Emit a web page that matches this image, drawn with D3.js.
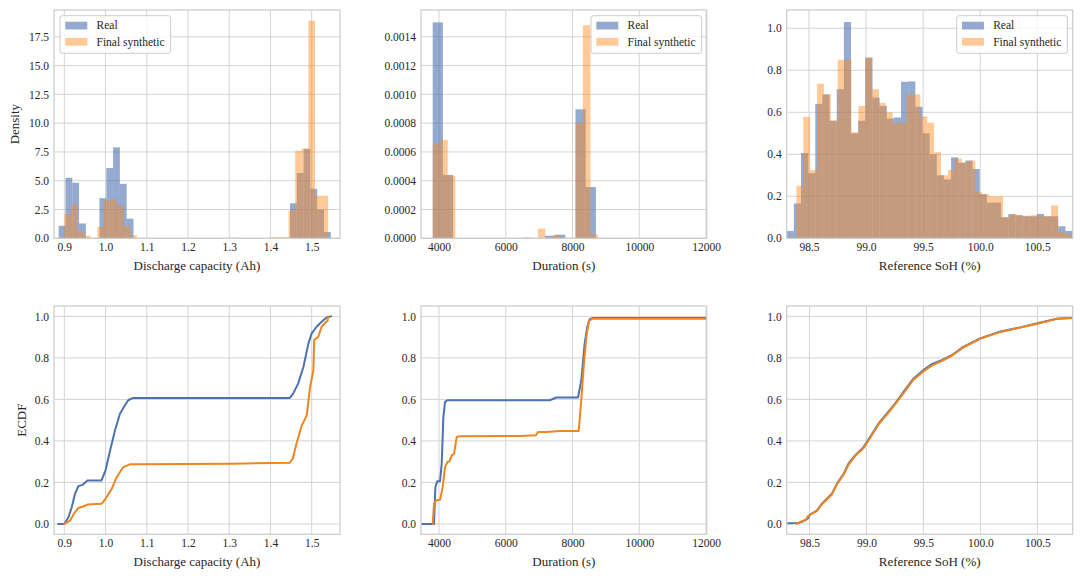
<!DOCTYPE html>
<html><head><meta charset="utf-8">
<script src="https://cdn.jsdelivr.net/npm/d3@7"></script>
<style>
body{margin:0;background:#fff}
svg text{font-family:"Liberation Serif","Times New Roman",Times,Tinos,"DejaVu Serif","Noto Serif",serif !important;fill:#262626}
</style>
</head><body>
<svg id="chart" width="1083" height="579"></svg>
<script>
// ---------------- DATA ----------------
const seriesNames = ["Real", "Final synthetic"];

// Discharge capacity histograms (density)
const capRealStart = 0.8863, capRealWidth = 0.0165;
const capRealDensity = [1.09,5.26,4.82,1.29,0,0,3.48,6.10,7.90,4.73,1.70,
  0,0,0,0,0,0,0,0,0,0,0,0,0,0,0,0,0,0,0,0,0,0,0,
  3.04,5.67,7.75,4.30,2.50,0.55];
const capSynStart = 0.9, capSynWidth = 0.016;
const capSynDensity = [2.11,2.90,0.60,0.22,0,1.00,3.28,3.42,2.84,1.09,0.28,
  0,0,0,0,0,0,0,0,0,0,0,0,0,0,0.05,0,0,0,0,0,0.08,0.10,0.10,
  2.40,7.60,7.80,18.90,3.70,3.70];

// Duration histograms (density)
const durRealStart = 3811, durRealWidth = 305.6;
const durRealDensity = [0.00150,0.00044,0,0,0,0,0,0,0,0,0,0.000018,0.000025,0,0.000896,0.000356];
const durSynStart = 3811, durSynWidth = 225;
const durSynDensity = [0.000653,0.000683,0.000433,0,0,0,0,0,0,0,0,0,0.000007,0,0.000067,0,0.000022,0,0,0.00080,0.00148,0.000028];

// Reference SoH histograms (density)
const sohRealStart = 98.305, sohRealWidth = 0.0626;
const sohRealDensity = [0.035,0.166,0.406,0.31,0.64,0.685,0.56,0.71,1.03,0.50,0.56,0.86,0.67,0.63,0.57,0.575,0.745,0.747,0.626,0.50,
  0.40,0.30,0.28,0.385,0.36,0.37,0.33,0.21,0.17,0.17,0.10,0.115,0.11,0.105,0.105,0.116,0.105,0.105,0.057,0.035];
const sohSynStart = 98.39, sohSynWidth = 0.0603;
const sohSynDensity = [0.25,0.578,0.325,0.736,0.685,0.56,0.85,0.85,0.505,0.63,0.86,0.71,0.645,0.60,0.55,0.55,0.685,0.685,0.58,0.55,
  0.41,0.30,0.326,0.38,0.36,0.37,0.22,0.21,0.20,0.20,0.10,0.115,0.108,0.108,0.11,0.105,0.105,0.156,0.03,0.02];

// ECDF curves [x, F(x)]
const capRealEcdf = [[0.885,0],[0.9,0],[0.91,0.032],[0.918,0.08],[0.926,0.145],[0.934,0.182],[0.944,0.188],[0.956,0.209],[0.99,0.209],[1.0,0.258],[1.011,0.354],[1.023,0.451],[1.035,0.531],[1.047,0.572],[1.055,0.596],[1.067,0.607],[1.447,0.607],[1.455,0.628],[1.467,0.676],[1.48,0.757],[1.492,0.87],[1.5,0.918],[1.512,0.95],[1.524,0.974],[1.536,0.995],[1.547,1.0]];
const capSynEcdf = [[0.9,0],[0.914,0.016],[0.923,0.048],[0.934,0.077],[0.946,0.084],[0.956,0.093],[0.99,0.097],[1.0,0.121],[1.015,0.169],[1.027,0.225],[1.043,0.274],[1.059,0.287],[1.075,0.288],[1.31,0.29],[1.447,0.295],[1.454,0.314],[1.463,0.386],[1.476,0.475],[1.488,0.523],[1.496,0.66],[1.504,0.74],[1.506,0.886],[1.516,0.902],[1.524,0.95],[1.535,0.974],[1.538,0.976],[1.54,1.0]];
const durRealEcdf = [[3462,0],[3850,0],[3890,0.177],[3950,0.206],[4030,0.206],[4080,0.29],[4130,0.515],[4180,0.588],[4250,0.596],[7318,0.596],[7517,0.609],[8164,0.609],[8264,0.692],[8364,0.87],[8443,0.95],[8513,0.986],[8613,0.992],[12020,0.992]];
const durSynEcdf = [[3811,0],[3850,0.097],[3910,0.113],[4030,0.116],[4110,0.177],[4180,0.274],[4250,0.298],[4310,0.301],[4380,0.33],[4450,0.338],[4530,0.419],[4630,0.423],[6420,0.424],[6900,0.427],[6970,0.443],[7220,0.443],[7620,0.448],[8185,0.448],[8245,0.564],[8334,0.757],[8414,0.902],[8493,0.979],[8613,0.989],[12020,0.989]];
const sohRealEcdf = [[98.30,0.003],[98.404,0.005],[98.447,0.013],[98.482,0.024],[98.506,0.045],[98.564,0.064],[98.608,0.097],[98.652,0.121],[98.696,0.145],[98.74,0.193],[98.8,0.242],[98.842,0.29],[98.9,0.33],[98.974,0.37],[99.032,0.419],[99.105,0.483],[99.178,0.531],[99.251,0.58],[99.325,0.636],[99.412,0.70],[99.5,0.741],[99.573,0.77],[99.66,0.789],[99.749,0.813],[99.85,0.853],[99.997,0.894],[100.17,0.926],[100.35,0.947],[100.52,0.969],[100.67,0.989],[100.81,0.992]];
const sohSynEcdf = [[98.389,0],[98.433,0.013],[98.47,0.019],[98.482,0.035],[98.52,0.05],[98.564,0.062],[98.608,0.095],[98.652,0.118],[98.696,0.142],[98.74,0.19],[98.8,0.238],[98.842,0.285],[98.9,0.327],[98.974,0.365],[99.032,0.414],[99.105,0.478],[99.178,0.527],[99.251,0.576],[99.325,0.63],[99.412,0.695],[99.5,0.735],[99.573,0.763],[99.66,0.785],[99.749,0.81],[99.85,0.85],[99.997,0.892],[100.17,0.924],[100.35,0.946],[100.52,0.967],[100.67,0.988],[100.81,0.993]];

// Tick labels
const capTicks = [0.9,1.0,1.1,1.2,1.3,1.4,1.5];
const durTicks = [4000,6000,8000,10000,12000];
const sohTicks = [98.5,99.0,99.5,100.0,100.5];
const capDensTicks = [0,2.5,5,7.5,10,12.5,15,17.5];
const durDensTicks = [0,0.0002,0.0004,0.0006,0.0008,0.0010,0.0012,0.0014];
const sohDensTicks = [0,0.2,0.4,0.6,0.8,1.0];
const ecdfTicks = [0,0.2,0.4,0.6,0.8,1.0];

const xLabels = ["Discharge capacity (Ah)", "Duration (s)", "Reference SoH (%)"];

// ---------------- DRAWING ----------------
const FONT = '"Liberation Serif","Times New Roman",Times,Tinos,"DejaVu Serif","Noto Serif",serif';
const svg = d3.select("#chart").attr("font-family", FONT);
const BLUE = "#4C72B0", ORANGE_FILL = "#ff8a1a", ORANGE_LINE = "#ee8520";
const GRID = "#d4d4d4", FRAME = "#cccccc";

const cols = [{l:54,r:340},{l:421,r:706.7},{l:786.7,r:1072.7}];
const rows = [{t:10,b:238.3},{t:306,b:534.3}];

function bins(start, width, dens){
  return dens.map((h,i)=>({x0:start+i*width, x1:start+(i+1)*width, h}));
}

let clipId = 0;
function panel(o){
  const x = d3.scaleLinear().domain(o.xDomain).range([o.l, o.r]);
  const y = d3.scaleLinear().domain(o.yDomain).range([o.b, o.t]);
  const g = svg.append("g");
  const id = "clip" + (clipId++);
  svg.append("clipPath").attr("id", id).append("rect")
    .attr("x", o.l).attr("y", o.t).attr("width", o.r-o.l).attr("height", o.b-o.t);

  g.append("g").selectAll("line").data(o.xTicks).join("line")
    .attr("x1", d=>x(d)).attr("x2", d=>x(d)).attr("y1", o.t).attr("y2", o.b)
    .attr("stroke", GRID).attr("stroke-width", 1);
  g.append("g").selectAll("line").data(o.yTicks).join("line")
    .attr("y1", d=>y(d)).attr("y2", d=>y(d)).attr("x1", o.l).attr("x2", o.r)
    .attr("stroke", GRID).attr("stroke-width", 1);

  const plot = g.append("g").attr("clip-path", `url(#${id})`);
  if (o.hists){
    o.hists.forEach(hs=>{
      plot.append("g").selectAll("rect").data(hs.data.filter(d=>d.h>0)).join("rect")
        .attr("x", d=>x(d.x0)).attr("width", d=>x(d.x1)-x(d.x0))
        .attr("y", d=>y(d.h)).attr("height", d=>y(0)-y(d.h))
        .attr("fill", hs.color).attr("fill-opacity", hs.alpha);
    });
  }
  if (o.lines){
    const line = d3.line().x(d=>x(d[0])).y(d=>y(d[1]));
    o.lines.forEach(ls=>{
      plot.append("path").datum(ls.data).attr("d", line)
        .attr("fill","none").attr("stroke", ls.color).attr("stroke-width", 2)
        .attr("stroke-linejoin","round").attr("stroke-linecap","round");
    });
  }
  g.append("rect").attr("x", o.l).attr("y", o.t).attr("width", o.r-o.l).attr("height", o.b-o.t)
    .attr("fill","none").attr("stroke", FRAME).attr("stroke-width", 1.25);

  const ax = g.append("g").attr("transform", `translate(0,${o.b})`)
    .call(d3.axisBottom(x).tickValues(o.xTicks).tickFormat(o.xFmt).tickSize(0).tickPadding(5));
  const ay = g.append("g").attr("transform", `translate(${o.l},0)`)
    .call(d3.axisLeft(y).tickValues(o.yTicks).tickFormat(o.yFmt).tickSize(0).tickPadding(5));
  [ax, ay].forEach(a=>{
    a.select(".domain").remove();
    a.attr("font-family", FONT).attr("font-size", 11.5);
    a.selectAll("text").attr("font-family", FONT).attr("font-size", 11.5).attr("fill","#262626");
  });

  g.append("text").attr("x", (o.l+o.r)/2).attr("y", o.b+31.5)
    .attr("text-anchor","middle").attr("font-family", FONT).attr("font-size", 13).text(o.xLabel);
  if (o.yLabel){
    g.append("text").attr("transform", `translate(${o.yLabelX},${(o.t+o.b)/2}) rotate(-90)`)
      .attr("text-anchor","middle").attr("font-family", FONT).attr("font-size", 13).text(o.yLabel);
  }
  if (o.legendX !== undefined){
    const lg = g.append("g").attr("transform", `translate(${o.legendX},15.7)`);
    lg.append("rect").attr("width",110.7).attr("height",37.6).attr("rx",2.5)
      .attr("fill","#fff").attr("fill-opacity",0.8).attr("stroke", FRAME).attr("stroke-width",1);
    const items = [{name:seriesNames[0], color:BLUE, alpha:0.6},{name:seriesNames[1], color:ORANGE_FILL, alpha:0.45}];
    items.forEach((it,i)=>{
      lg.append("rect").attr("x",5.3).attr("y",6+i*16.2).attr("width",22).attr("height",7.8)
        .attr("fill", it.color).attr("fill-opacity", it.alpha);
      lg.append("text").attr("x",36.5).attr("y",13.8+i*16.2)
        .attr("font-family", FONT).attr("font-size", 11.5).text(it.name);
    });
  }
}

const f1 = d3.format(".1f"), f4 = d3.format(".4f"), fi = d3.format("d");

panel({l:cols[0].l, r:cols[0].r, t:rows[0].t, b:rows[0].b,
  xDomain:[0.875,1.5686], yDomain:[0,19.83], xTicks:capTicks, yTicks:capDensTicks, xFmt:f1, yFmt:f1,
  xLabel:xLabels[0], yLabel:"Density", yLabelX:19, legendX:60,
  hists:[{data:bins(capRealStart,capRealWidth,capRealDensity), color:BLUE, alpha:0.6},
         {data:bins(capSynStart,capSynWidth,capSynDensity), color:ORANGE_FILL, alpha:0.45}]});
panel({l:cols[1].l, r:cols[1].r, t:rows[0].t, b:rows[0].b,
  xDomain:[3460,12020], yDomain:[0,0.001586], xTicks:durTicks, yTicks:durDensTicks, xFmt:fi, yFmt:f4,
  xLabel:xLabels[1], legendX:591,
  hists:[{data:bins(durRealStart,durRealWidth,durRealDensity), color:BLUE, alpha:0.6},
         {data:bins(durSynStart,durSynWidth,durSynDensity), color:ORANGE_FILL, alpha:0.45}]});
panel({l:cols[2].l, r:cols[2].r, t:rows[0].t, b:rows[0].b,
  xDomain:[98.305,100.81], yDomain:[0,1.087], xTicks:sohTicks, yTicks:sohDensTicks, xFmt:f1, yFmt:f1,
  xLabel:xLabels[2], legendX:956.7,
  hists:[{data:bins(sohRealStart,sohRealWidth,sohRealDensity), color:BLUE, alpha:0.6},
         {data:bins(sohSynStart,sohSynWidth,sohSynDensity), color:ORANGE_FILL, alpha:0.45}]});

panel({l:cols[0].l, r:cols[0].r, t:rows[1].t, b:rows[1].b,
  xDomain:[0.875,1.5686], yDomain:[-0.05,1.05], xTicks:capTicks, yTicks:ecdfTicks, xFmt:f1, yFmt:f1,
  xLabel:xLabels[0], yLabel:"ECDF", yLabelX:25.5,
  lines:[{data:capRealEcdf, color:BLUE},{data:capSynEcdf, color:ORANGE_LINE}]});
panel({l:cols[1].l, r:cols[1].r, t:rows[1].t, b:rows[1].b,
  xDomain:[3460,12020], yDomain:[-0.05,1.05], xTicks:durTicks, yTicks:ecdfTicks, xFmt:fi, yFmt:f1,
  xLabel:xLabels[1],
  lines:[{data:durRealEcdf, color:BLUE},{data:durSynEcdf, color:ORANGE_LINE}]});
panel({l:cols[2].l, r:cols[2].r, t:rows[1].t, b:rows[1].b,
  xDomain:[98.30,100.81], yDomain:[-0.05,1.05], xTicks:sohTicks, yTicks:ecdfTicks, xFmt:f1, yFmt:f1,
  xLabel:xLabels[2],
  lines:[{data:sohRealEcdf, color:BLUE},{data:sohSynEcdf, color:ORANGE_LINE}]});
</script>
</body></html>
